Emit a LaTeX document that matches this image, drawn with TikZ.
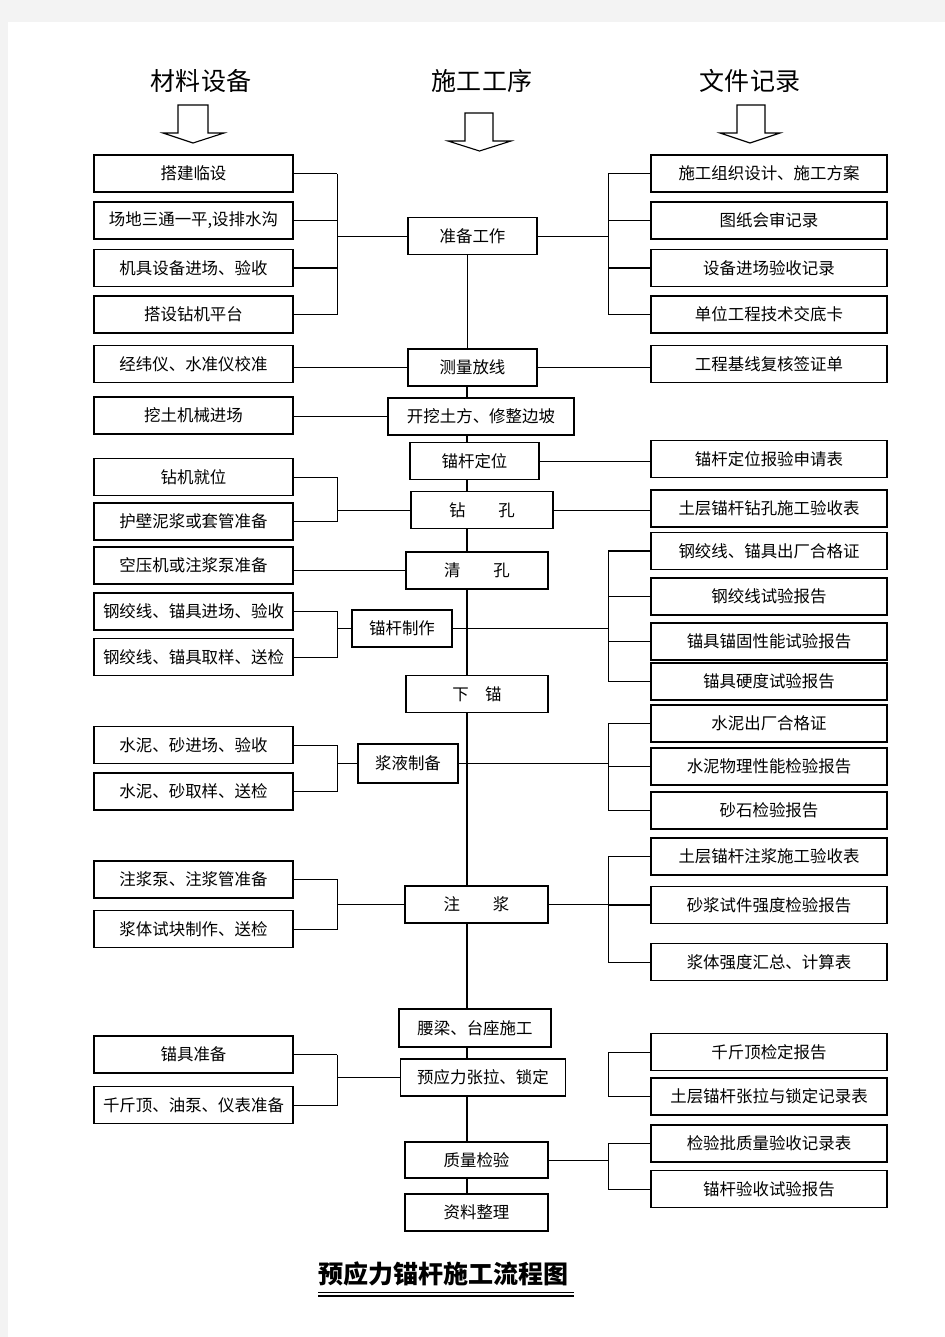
\documentclass[tikz,border=0pt]{standalone}
\usepackage{fontspec}
\setmainfont{Noto Sans CJK SC}
\definecolor{pagegray}{RGB}{243,243,243}

\begin{document}
\begin{tikzpicture}[x=0.25mm,y=-0.25mm,
    box/.style={draw,line width=0.8pt,inner sep=0pt,minimum height=9.25mm,font=\fontsize{11.7}{14}\selectfont},
    matbox/.style={box,minimum width=49.75mm},
    docbox/.style={box,minimum width=59mm},
    link/.style={line width=0.7pt},
    spine/.style={line width=1.4pt},
    head/.style={font=\fontsize{17.8}{20}\selectfont},
    blockarrow/.style={draw,line width=0.8pt,fill=white,line join=miter}]

\fill[pagegray] (0,0) rectangle (945,1337);
\fill[white] (8,22) rectangle (945,1337);
\useasboundingbox (0,0) rectangle (945,1337);

% column heads
\node (hmat) at (201,81) [head] {材料设备};
\node (hstep) at (482,81) [head] {施工工序};
\node (hdoc) at (750,81) [head] {文件记录};
\draw[blockarrow] (178,105) -- (208,105) -- (208,133) -- (224,133) -- (193,143) -- (163,133) -- (178,133) -- cycle;
\draw[blockarrow] (465,113) -- (493,113) -- (493,141) -- (511,141) -- (479.5,151) -- (448,141) -- (465,141) -- cycle;
\draw[blockarrow] (737,105) -- (765,105) -- (765,133) -- (780,133) -- (750,143) -- (720,133) -- (737,133) -- cycle;

\coordinate (lb) at (337,0);
\coordinate (rb) at (608,0);
\coordinate (sp) at (467,0);

% process steps
\node (prep) at (472.5,236) [box,minimum width=32.25mm] {准备工作};
\node (survey) at (472.5,367.5) [box,minimum width=32.25mm] {测量放线};
\node (dig) at (481,416.5) [box,minimum width=46.5mm] {开挖土方、修整边坡};
\node (locate) at (474.5,461) [box,minimum width=32.25mm] {锚杆定位};
\node (drill) at (482,510) [box,line width=1.2pt,minimum width=35.5mm] {钻\hspace{2em}孔};
\node (clean) at (477,570.5) [box,minimum width=35.5mm] {清\hspace{2em}孔};
\node (make) at (402,628.5) [box,minimum width=25mm] {锚杆制作};
\node (lower) at (477,694) [box,minimum width=35.5mm] {下\hspace{1em}锚};
\node (mix) at (408,763.5) [box,line width=1.1pt,minimum width=25mm,minimum height=9.75mm] {浆液制备};
\node (grout) at (476.5,904.5) [box,minimum width=35.75mm] {注\hspace{2em}浆};
\node (beam) at (475,1028) [box,line width=1.1pt,minimum width=38mm,minimum height=9.5mm] {腰梁、台座施工};
\node (tension) at (483,1077.5) [box,minimum width=41.1mm] {预应力张拉、锁定};
\node (check) at (476.5,1160) [box,minimum width=35.75mm,minimum height=9mm] {质量检验};
\node (data) at (476.5,1212.5) [box,minimum width=35.75mm] {资料整理};

% materials
\node (m1) at (193.5,173.5) [matbox] {搭建临设};
\node (m2) at (193.5,220.5) [matbox] {场地三通一平,设排水沟};
\node (m3) at (193.5,268) [matbox] {机具设备进场、验收};
\node (m4) at (193.5,314.5) [matbox] {搭设钻机平台};
\node (m5) at (193.5,364) [matbox] {经纬仪、水准仪校准};
\node (m6) at (193.5,415.5) [matbox] {挖土机械进场};
\node (m7) at (193.5,477) [matbox] {钻机就位};
\node (m8) at (193.5,521.5) [matbox] {护壁泥浆或套管准备};
\node (m9) at (193.5,565.5) [matbox] {空压机或注浆泵准备};
\node (m10) at (193.5,611.5) [matbox] {钢绞线、锚具进场、验收};
\node (m11) at (193.5,657) [matbox] {钢绞线、锚具取样、送检};
\node (m12) at (193.5,745) [matbox] {水泥、砂进场、验收};
\node (m13) at (193.5,791.5) [matbox] {水泥、砂取样、送检};
\node (m14) at (193.5,879.5) [matbox] {注浆泵、注浆管准备};
\node (m15) at (193.5,929) [matbox] {浆体试块制作、送检};
\node (m16) at (193.5,1054.5) [matbox] {锚具准备};
\node (m17) at (193.5,1105) [matbox] {千斤顶、油泵、仪表准备};

% documents
\node (d1) at (769,173.5) [docbox] {施工组织设计、施工方案};
\node (d2) at (769,220.5) [docbox] {图纸会审记录};
\node (d3) at (769,268) [docbox] {设备进场验收记录};
\node (d4) at (769,314.5) [docbox] {单位工程技术交底卡};
\node (d5) at (769,364) [docbox] {工程基线复核签证单};
\node (d6) at (769,459) [docbox] {锚杆定位报验申请表};
\node (d7) at (769,508.5) [docbox] {土层锚杆钻孔施工验收表};
\node (d8) at (769,551) [docbox] {钢绞线、锚具出厂合格证};
\node (d9) at (769,596.5) [docbox] {钢绞线试验报告};
\node (d10) at (769,641.5) [docbox] {锚具锚固性能试验报告};
\node (d11) at (769,681.5) [docbox] {锚具硬度试验报告};
\node (d12) at (769,723.5) [docbox] {水泥出厂合格证};
\node (d13) at (769,766.5) [docbox] {水泥物理性能检验报告};
\node (d14) at (769,810.5) [docbox] {砂石检验报告};
\node (d15) at (769,856.5) [docbox] {土层锚杆注浆施工验收表};
\node (d16) at (769,905) [docbox] {砂浆试件强度检验报告};
\node (d17) at (769,962) [docbox] {浆体强度汇总、计算表};
\node (d18) at (769,1052) [docbox] {千斤顶检定报告};
\node (d19) at (769,1096.5) [docbox] {土层锚杆张拉与锁定记录表};
\node (d20) at (769,1143.5) [docbox] {检验批质量验收记录表};
\node (d21) at (769,1189) [docbox] {锚杆验收试验报告};

% main line
\draw[link] (prep.south -| sp) -- (survey.north -| sp);
\draw[spine] (survey.south -| sp) -- (dig.north -| sp);
\draw[spine] (dig.south -| sp) -- (locate.north -| sp);
\draw[spine] (locate.south -| sp) -- (drill.north -| sp);
\draw[spine] (drill.south -| sp) -- (clean.north -| sp);
\draw[spine] (clean.south -| sp) -- (lower.north -| sp);
\draw[spine] (lower.south -| sp) -- (grout.north -| sp);
\draw[spine] (grout.south -| sp) -- (beam.north -| sp);
\draw[spine] (beam.south -| sp) -- (tension.north -| sp);
\draw[spine] (tension.south -| sp) -- (check.north -| sp);
\draw[spine] (check.south -| sp) -- (data.north -| sp);

% left side
\draw[link] (m1.east) -- (m1.east -| lb);
\draw[link] (m2.east) -- (m2.east -| lb);
\draw[line width=1.3pt] (m3.east) -- (m3.east -| lb);
\draw[link] (m4.east) -- (m4.east -| lb);
\draw[link] (m1.east -| lb) -- (m4.east -| lb);
\draw[link] (prep.west -| lb) -- (prep.west);
\draw[link] (survey.west -| m5.east) -- (survey.west);
\draw[link] (dig.west -| m6.east) -- (dig.west);
\draw[link] (m7.east) -- (m7.east -| lb) -- (m8.east -| lb) -- (m8.east);
\draw[link] (drill.west -| lb) -- (drill.west);
\draw[link] (clean.west -| m9.east) -- (clean.west);
\draw[link] (m10.east) -- (m10.east -| lb) -- (m11.east -| lb) -- (m11.east);
\draw[link] (make.west -| lb) -- (make.west);
\draw[link] (m12.east) -- (m12.east -| lb) -- (m13.east -| lb) -- (m13.east);
\draw[link] (mix.west -| lb) -- (mix.west);
\draw[link] (m14.east) -- (m14.east -| lb) -- (m15.east -| lb) -- (m15.east);
\draw[link] (grout.west -| lb) -- (grout.west);
\draw[line width=1.3pt] (m16.east) -- (m16.east -| lb);
\draw[link] (m16.east -| lb) -- (m17.east -| lb) -- (m17.east);
\draw[link] (tension.west -| lb) -- (tension.west);

% right side
\draw[link] (d1.west) -- (d1.west -| rb) -- (d4.west -| rb) -- (d4.west);
\draw[link] (d2.west) -- (d2.west -| rb);
\draw[line width=1.3pt] (d3.west) -- (d3.west -| rb);
\draw[link] (prep.east) -- (prep.east -| rb);
\draw[link] (survey.east) -- (survey.east -| d5.west);
\draw[link] (locate.east) -- (locate.east -| d6.west);
\draw[link] (drill.east) -- (drill.east -| d7.west);
\draw[line width=1.3pt] (d8.west) -- (d8.west -| rb);
\draw[link] (d8.west -| rb) -- (d11.west -| rb) -- (d11.west);
\draw[link] (d9.west) -- (d9.west -| rb);
\draw[link] (d10.west) -- (d10.west -| rb);
\draw[link] (make.east) -- (make.east -| rb);
\draw[link] (d12.west) -- (d12.west -| rb) -- (d14.west -| rb) -- (d14.west);
\draw[link] (d13.west) -- (d13.west -| rb);
\draw[link] (mix.east) -- (mix.east -| rb);
\draw[link] (d15.west) -- (d15.west -| rb) -- (d17.west -| rb) -- (d17.west);
\draw[line width=1.3pt] (d16.west) -- (d16.west -| rb);
\draw[link] (grout.east) -- (grout.east -| rb);
\draw[link] (d18.west) -- (d18.west -| rb) -- (d19.west -| rb) -- (d19.west);
\draw[link] (d20.west) -- (d20.west -| rb) -- (d21.west -| rb) -- (d21.west);
\draw[link] (check.east) -- (check.east -| rb);

% title
\node (title) at (443.5,1274) [font=\fontsize{17.8}{20}\selectfont\bfseries] {预应力锚杆施工流程图};
\draw[line width=1pt] (318,1292.5) -- (574,1292.5);
\draw[line width=0.8pt] (318,1296) -- (574,1296);

\end{tikzpicture}
\end{document}
